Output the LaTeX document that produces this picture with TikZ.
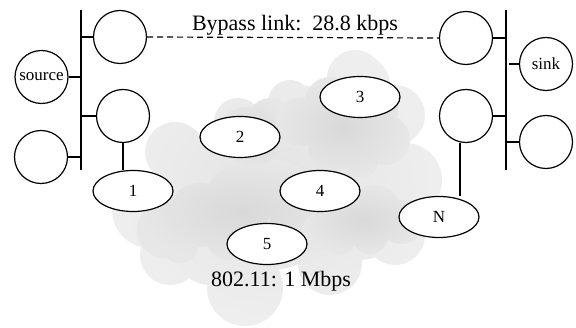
\documentclass[tikz,border=0pt]{standalone}
\usepackage{fontspec}
\setmainfont{Liberation Serif}
\usetikzlibrary{shapes.geometric}
\tikzset{
  host/.style={circle,draw,line width=1.2pt,fill=white,minimum size=53pt,inner sep=0pt,font=\fontsize{17}{19}\selectfont},
  wnode/.style={ellipse,draw,line width=1.2pt,fill=white,minimum width=80pt,minimum height=41pt,inner sep=0pt,font=\fontsize{17}{19}\selectfont},
  bus/.style={line width=2.6pt},
  link/.style={line width=1.6pt},
  biglabel/.style={font=\fontsize{22}{24}\selectfont,anchor=base,inner sep=0pt},
  outercloud/.style={inner color=gray!22,outer color=gray!13},
  innercloud/.style={inner color=gray!30,outer color=gray!19},
}
\begin{document}
\begin{tikzpicture}[x=1pt,y=-1pt]
\useasboundingbox (0,0) rectangle (576,328);
% outer cloud
\shade[outercloud]
  (355,78) circle (28) (290,102) circle (22) (238,122) circle (24) (175,152) circle (30)
  (150,210) circle (38) (170,255) circle (30) (245,288) circle (38) (330,263) circle (32)
  (395,235) circle (30) (405,180) circle (37) (395,115) circle (30) (360,85) circle (30)
  (270,200) circle (70) (330,160) circle (60) (220,180) circle (50) (300,120) circle (35)
  (210,250) circle (35) (360,220) circle (40);
% inner clouds
\shade[innercloud] (245,135) circle (28) (270,120) circle (22) (258,150) circle (20);
\shade[innercloud] (300,122) circle (24) (330,102) circle (25) (370,110) circle (28)
  (385,140) circle (25) (360,160) circle (18) (330,150) circle (22) (345,130) circle (25);
\shade[innercloud] (165,230) circle (28) (200,215) circle (32) (240,200) circle (35)
  (280,190) circle (30) (320,200) circle (25) (300,225) circle (30) (230,235) circle (25)
  (180,245) circle (18);
\shade[innercloud] (320,232) circle (19) (345,215) circle (22) (375,210) circle (25)
  (402,222) circle (22) (370,236) circle (18) (340,240) circle (15);
% left side
\coordinate (bl1) at (81,10);
\coordinate (bl2) at (81,170);
\draw[bus] (bl1) -- (bl2);
\node[host] (tl) at (120,37) {};
\node[host] (src) at (41.5,77) {source};
\node[host] (ml) at (123,116) {};
\node[host] (bll) at (41,157) {};
\draw[link] (tl.west -| bl1) -- (tl.west);
\draw[link] (src.east) -- (src.east -| bl1);
\draw[link] (ml.west -| bl1) -- (ml.west);
\draw[link] (bll.east) -- (bll.east -| bl1);
% right side
\coordinate (br1) at (506,10);
\coordinate (br2) at (506,170);
\draw[bus] (br1) -- (br2);
\node[host] (tr) at (466,38) {};
\node[host] (sink) at (546,64) {sink};
\node[host] (mr) at (466,116) {};
\node[host] (brr) at (546,142) {};
\draw[link] (tr.east) -- (tr.east -| br1);
\draw[link] ([xshift=3pt]sink.west -| br1) -- (sink.west);
\draw[link] (mr.east) -- (mr.east -| br1);
\draw[link] (brr.west -| br1) -- (brr.west);
% wireless nodes
\node[wnode] (n1) at (133,191) {1};
\node[wnode] (n2) at (240,137) {2};
\node[wnode] (n3) at (360,97) {3};
\node[wnode] (n4) at (320,191) {4};
\node[wnode] (n5) at (267,244) {5};
\node[wnode] (nN) at (439,217) {N};
\draw[link,line width=1.3pt] (ml.south) -- (n1.north -| ml.south);
\coordinate (mrd) at (460,143);
\draw[link,line width=1.3pt] (mrd |- mr.south) -- (mrd |- nN.north);
% bypass
\draw[line width=1.2pt,dash pattern=on 6pt off 4pt] (tl.east) -- (tr.west);
\node[biglabel] (bypass) at (295,31) {Bypass link:\ \ 28.8 kbps};
\node[biglabel] (wlabel) at (281,287) {802.11: 1 Mbps};
\end{tikzpicture}
\end{document}
